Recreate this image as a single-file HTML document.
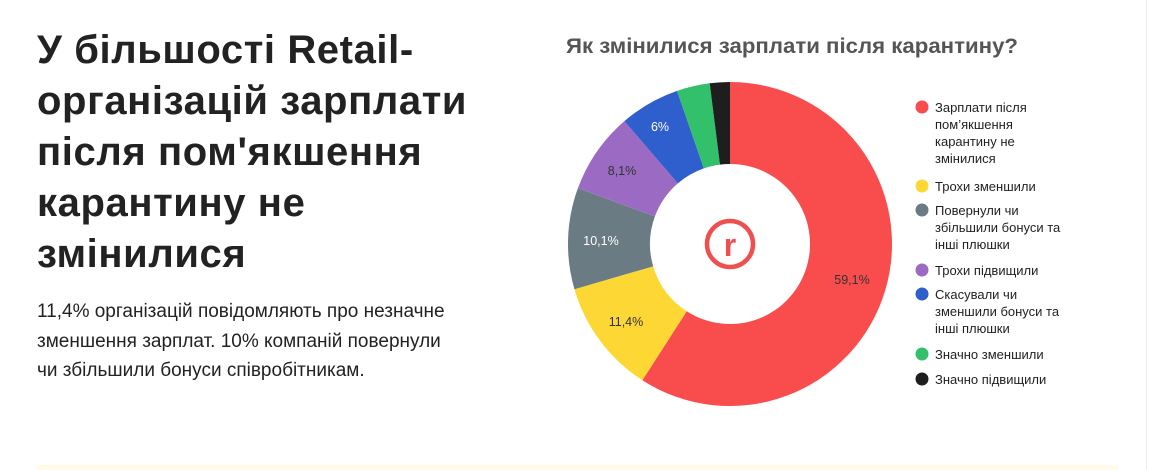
<!DOCTYPE html>
<html><head><meta charset="utf-8"><style>
body{margin:0;width:1160px;height:470px;background:#fff;position:relative;overflow:hidden;font-family:"Liberation Sans",sans-serif}
h1{position:absolute;left:37px;top:25px;margin:0;font-size:40px;line-height:51px;font-weight:bold;color:#222;width:540px;white-space:nowrap;letter-spacing:0.6px}
p{position:absolute;left:37px;top:297px;margin:0;font-size:19px;line-height:29.5px;color:#222;width:500px;white-space:nowrap}
.strip{position:absolute;left:37px;top:465px;width:1081px;height:5px;background:#fffbe6}
.vline{position:absolute;left:1146px;top:0;width:1px;height:470px;background:#eee}
</style></head><body>
<h1>У більшості Retail-<br>організацій зарплати<br>після пом'якшення<br>карантину не<br>змінилися</h1>
<p>11,4% організацій повідомляють про незначне<br>зменшення зарплат. 10% компаній повернули<br>чи збільшили бонуси співробітникам.</p>
<div class="strip"></div><div class="vline"></div>
<svg id="s" width="1160" height="470" style="position:absolute;left:0;top:0" font-family="Liberation Sans, sans-serif">
<text x="566" y="53" font-size="21.5" font-weight="bold" fill="#555" textLength="452" lengthAdjust="spacingAndGlyphs">Як змінилися зарплати після карантину?</text>
<g id="pie"></g>
<circle cx="730" cy="244" r="23" fill="none" stroke="#f04f4f" stroke-width="4.5"/>
<text x="730" y="256" font-size="32" font-weight="bold" fill="#f04f4f" text-anchor="middle">r</text>
<g font-size="12.5" fill="#333">
<text x="852" y="284" text-anchor="middle">59,1%</text>
<text x="626" y="326" text-anchor="middle">11,4%</text>
<text x="601" y="245" text-anchor="middle" fill="#fff">10,1%</text>
<text x="622" y="175" text-anchor="middle">8,1%</text>
<text x="660" y="131" text-anchor="middle" fill="#fff">6%</text>
</g>
<g font-size="13" fill="#222">
<circle cx="922" cy="107" r="6.5" fill="#f94d4d"/><text x="935" y="112">Зарплати після</text><text x="935" y="129">пом’якшення</text><text x="935" y="146">карантину не</text><text x="935" y="163">змінилися</text>
<circle cx="922" cy="186" r="6.5" fill="#fdd835"/><text x="935" y="191">Трохи зменшили</text>
<circle cx="922" cy="210" r="6.5" fill="#6b7b84"/><text x="935" y="215">Повернули чи</text><text x="935" y="232">збільшили бонуси та</text><text x="935" y="249">інші плюшки</text>
<circle cx="922" cy="270" r="6.5" fill="#9b6bc4"/><text x="935" y="275">Трохи підвищили</text>
<circle cx="922" cy="294" r="6.5" fill="#2f5fcc"/><text x="935" y="299">Скасували чи</text><text x="935" y="316">зменшили бонуси та</text><text x="935" y="333">інші плюшки</text>
<circle cx="922" cy="354" r="6.5" fill="#33c06b"/><text x="935" y="359">Значно зменшили</text>
<circle cx="922" cy="379" r="6.5" fill="#1e1e1e"/><text x="935" y="384">Значно підвищили</text>
</g>
</svg>
<script>
var d=[[59.1,"#f94d4d"],[11.4,"#fdd835"],[10.1,"#6b7b84"],[8.1,"#9b6bc4"],[6,"#2f5fcc"],[3.3,"#33c06b"],[2.0,"#1e1e1e"]];
var cx=730,cy=244,R=162,r=80,a=0,h="";
function p(rad,t){return (cx+rad*Math.sin(t)).toFixed(2)+","+(cy-rad*Math.cos(t)).toFixed(2)}
d.forEach(function(s){var b=a+s[0]/100*2*Math.PI,l=(b-a)>Math.PI?1:0;
h+='<path fill="'+s[1]+'" d="M'+p(R,a)+' A'+R+','+R+' 0 '+l+' 1 '+p(R,b)+' L'+p(r,b)+' A'+r+','+r+' 0 '+l+' 0 '+p(r,a)+' Z"/>';a=b;});
document.getElementById("pie").innerHTML=h;
</script>
</body></html>
